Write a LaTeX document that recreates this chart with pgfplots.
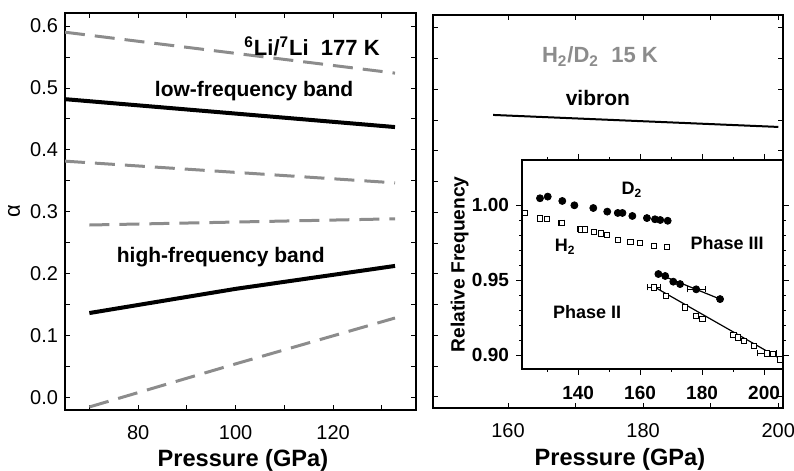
\documentclass[border=0pt]{standalone}
\usepackage{fontspec}
\setmainfont{Liberation Sans}
\usepackage{pgfplots}
\pgfplotsset{compat=1.18}
\definecolor{dgray}{RGB}{140,140,140}

\pgfplotsset{
  outer/.style={
    scale only axis,
    anchor=south west,
    tick align=inside,
    major tick length=2.5pt, minor tick length=2.5pt,
    axis line style={line width=0.7pt},
    every tick/.style={black, line width=0.5pt},
    tick label style={font=\fontsize{10}{12}\selectfont},
    /pgf/number format/assume math mode=true,
    label style={font=\bfseries\fontsize{11.8}{13}\selectfont},
  },
  dashgray/.style={dgray, line width=1.5pt, dash pattern=on 10pt off 5pt},
  solidblk/.style={black, line width=2pt},
}

\begin{document}
\begin{tikzpicture}
\useasboundingbox (0,0) rectangle (397pt,235.5pt);

% left panel: 6Li/7Li
\begin{axis}[outer,
    at={(32.5pt,30.5pt)}, width=175.5pt, height=198.5pt,
    xmin=65, xmax=137, ymin=-0.0194, ymax=0.621,
    xtick={80,100,120}, minor xtick={70,90,110,130},
    ytick={0,0.1,0.2,0.3,0.4,0.5,0.6},
    minor ytick={0.05,0.15,0.25,0.35,0.45,0.55},
    yticklabel style={/pgf/number format/.cd,fixed,fixed zerofill,precision=1},
    xticklabel style={yshift=-4pt},
    xlabel={Pressure (GPa)},
    xlabel style={at={(axis description cs:0.507,-0.126)}, anchor=center},
    ylabel={α},
    ylabel style={at={(axis description cs:-0.145,0.5)}, anchor=center, font=\fontsize{11}{12}\selectfont},
]
\addplot[dashgray] coordinates {(65,0.590) (132.7,0.524)};
\addplot[solidblk] coordinates {(65,0.482) (132.7,0.437)};
\addplot[dashgray] coordinates {(65,0.382) (132.7,0.347)};
\addplot[dashgray] coordinates {(70,0.279) (132.7,0.289)};
\addplot[solidblk] coordinates {(70,0.137) (100,0.176) (132.7,0.213)};
\addplot[dashgray] coordinates {(70,-0.0145) (100,0.055) (132.7,0.129)};
\node[anchor=base east, font=\bfseries\fontsize{11}{12}\selectfont] at (axis cs:131,0.553)
  {\textsuperscript{6}Li/\textsuperscript{7}Li\ \ 177 K};
\node[anchor=base west, font=\bfseries\fontsize{10.5}{12}\selectfont] at (axis cs:82,0.486) {low-frequency band};
\node[anchor=base west, font=\bfseries\fontsize{10.5}{12}\selectfont] at (axis cs:74.2,0.218) {high-frequency band};
\end{axis}

% right panel: H2/D2
\begin{axis}[outer,
    at={(216.5pt,31.5pt)}, width=175pt, height=196.5pt,
    xmin=148.9, xmax=200.7, ymin=0, ymax=12.78,
    xtick={160,180,200}, minor xtick={170,190},
    ytick={0.36,1.36,2.36,3.36,4.36,5.36,6.36,7.36,8.36,9.36,10.36,11.36,12.36},
    yticklabels={},
    xticklabel style={yshift=-4pt},
    xlabel={Pressure (GPa)},
    xlabel style={at={(axis description cs:0.534,-0.132)}, anchor=center},
]
\addplot[black, line width=1pt] coordinates {(157.8,9.53) (200,9.14)};
\node[anchor=base, text=dgray, font=\bfseries\fontsize{11}{12}\selectfont] at (axis cs:173.6,11.22)
  {H\textsubscript{2}/D\textsubscript{2}\ \ 15 K};
\node[anchor=base, font=\bfseries\fontsize{10.5}{12}\selectfont] at (axis cs:173.3,9.85) {vibron};
\end{axis}

% inset: relative frequency
\begin{axis}[
    scale only axis, anchor=south west,
    at={(261pt,51pt)}, width=130.5pt, height=104.5pt,
    axis background/.style={fill=white},
    xmin=121.9, xmax=206.1, ymin=0.8907, ymax=1.03,
    xtick={140,160,180,200}, minor xtick={130,150,170,190},
    ytick={0.90,0.95,1.00}, minor y tick num=4,
    tick align=outside,
    major tick length=3pt, minor tick length=1.5pt,
    axis line style={line width=0.6pt},
    every tick/.style={black, line width=0.5pt},
    tick label style={font=\bfseries\fontsize{9.5}{11}\selectfont},
    /pgf/number format/assume math mode=true,
    yticklabel style={/pgf/number format/.cd,fixed,fixed zerofill,precision=2},
    xticklabel style={yshift=-2pt},
    ylabel={Relative Frequency},
    ylabel style={at={(axis description cs:-0.239,0.5)}, anchor=center, font=\bfseries\fontsize{9.6}{11}\selectfont},
    error bars/error bar style={line width=0.4pt},
    error bars/error mark options={rotate=90, mark size=1.5pt, line width=0.4pt},
]
% D2, phase II
\addplot[only marks, mark=*, mark size=1.75pt, black] coordinates {
  (127.7,1.0045) (130.2,1.0056) (134.9,1.0027) (138.8,0.9998) (144.9,0.9980)
  (149.4,0.9956) (152.8,0.9947) (154.3,0.9947) (157.5,0.9927) (162.2,0.9913)
  (164.8,0.9905) (166.5,0.9900) (168.9,0.9895)};
% H2, phase II
\addplot[only marks, mark=square*, mark size=1.3pt, black, fill=white, line width=0.4pt,
    error bars/.cd, x dir=both, x explicit] coordinates {
  (122.9,0.9949) (127.7,0.9911) (130.0,0.9905) (134.7,0.9882) +- (1,0) (140.8,0.9838) +- (1,0)
  (142.3,0.9838) (145.2,0.9822) (147.3,0.9811) (149.2,0.9800) (152.9,0.9770)
  (156.9,0.9753) (159.9,0.9745) (164.5,0.9727) (168.6,0.9722)};
% phase III fits
\addplot[black, line width=0.6pt] coordinates {(165.9,0.9540) (185.8,0.9373)};
\addplot[black, line width=0.6pt] coordinates {(164.5,0.9455) (206.1,0.8965)};
% D2, phase III
\addplot[only marks, mark=*, mark size=1.75pt, black,
    error bars/.cd, x dir=both, x explicit] coordinates {
  (165.9,0.9540) (168.1,0.9527) (170.7,0.9489) (172.9,0.9473) (178.1,0.9438) +- (3,0) (185.8,0.9373)};
% H2, phase III
\addplot[only marks, mark=square*, mark size=1.3pt, black, fill=white, line width=0.4pt,
    error bars/.cd, x dir=both, x explicit] coordinates {
  (164.5,0.9451) +- (2,0) (168.4,0.9393) (174.5,0.9318) (178.1,0.9262) (180.1,0.9240)
  (190.1,0.9133) (191.5,0.9118) (193.6,0.9095) (196.6,0.9062) (200.9,0.9011) +- (3,0)
  (202.8,0.9005) (205.2,0.8971)};
\node[anchor=base, font=\bfseries\fontsize{9}{10}\selectfont] at (axis cs:157.4,1.0067) {D\textsubscript{2}};
\node[anchor=base, font=\bfseries\fontsize{9}{10}\selectfont] at (axis cs:135.8,0.9687) {H\textsubscript{2}};
\node[anchor=base, font=\bfseries\fontsize{9}{10}\selectfont] at (axis cs:188.1,0.9704) {Phase III};
\node[anchor=base, font=\bfseries\fontsize{9}{10}\selectfont] at (axis cs:142.9,0.9245) {Phase II};
\end{axis}
\end{tikzpicture}
\end{document}
